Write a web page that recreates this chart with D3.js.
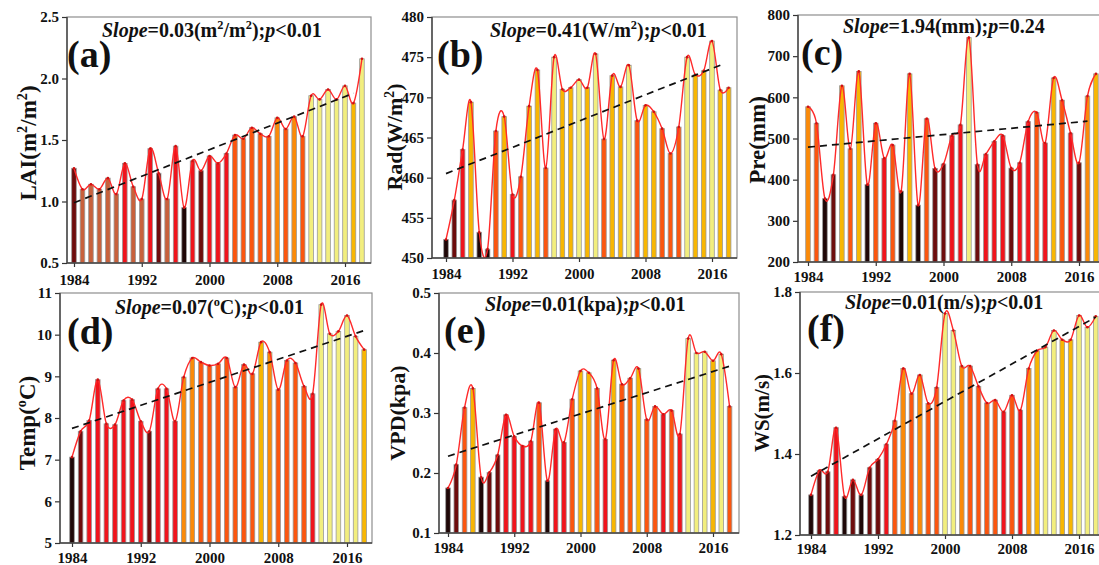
<!DOCTYPE html>
<html><head><meta charset="utf-8">
<script src="https://cdn.jsdelivr.net/npm/d3@7"></script>
<style>body{margin:0;background:#fff}svg{display:block}</style>
</head><body>
<svg id="chart" width="1099" height="565"></svg>
<script>
// ---------- data ----------
const years = [1984,1985,1986,1987,1988,1989,1990,1991,1992,1993,1994,1995,1996,1997,1998,1999,2000,2001,2002,2003,2004,2005,2006,2007,2008,2009,2010,2011,2012,2013,2014,2015,2016,2017,2018];
const xTickYears = [1984,1992,2000,2008,2016];

const laiValues  = [1.27,1.10,1.14,1.10,1.19,1.06,1.31,1.12,1.02,1.43,1.23,1.02,1.45,0.95,1.33,1.25,1.37,1.31,1.39,1.54,1.51,1.60,1.55,1.53,1.68,1.59,1.69,1.53,1.86,1.83,1.91,1.83,1.94,1.80,2.16];
const radValues  = [452.3,457.2,463.5,469.4,453.2,451.1,465.8,467.6,457.9,460.1,468.9,473.4,461.2,475.0,471.0,471.2,472.2,471.2,475.4,464.8,472.7,471.3,474.0,467.1,469.0,468.2,466.1,463.0,466.3,475.0,472.8,473.3,477.0,470.9,471.2];
const preValues  = [577,537,354,412,628,475,663,388,537,452,484,372,657,338,548,427,438,507,533,745,437,462,493,507,428,441,541,563,489,647,593,513,441,603,657];
const tempValues = [7.06,7.68,7.94,8.92,7.86,7.84,8.42,8.44,7.92,7.68,8.70,8.70,7.92,8.98,9.44,9.34,9.26,9.30,9.44,8.74,9.28,9.06,9.82,9.58,8.68,9.38,9.32,8.76,8.58,10.72,10.02,10.08,10.46,9.96,9.64];
const vpdValues  = [0.175,0.214,0.309,0.341,0.193,0.201,0.230,0.297,0.261,0.245,0.253,0.317,0.187,0.273,0.251,0.323,0.370,0.367,0.341,0.256,0.388,0.348,0.358,0.374,0.289,0.311,0.298,0.304,0.265,0.424,0.400,0.402,0.387,0.398,0.311];
const wsValues   = [1.299,1.359,1.356,1.465,1.295,1.336,1.299,1.366,1.387,1.424,1.482,1.611,1.549,1.595,1.525,1.564,1.747,1.705,1.617,1.617,1.567,1.526,1.533,1.504,1.545,1.508,1.611,1.655,1.664,1.705,1.682,1.682,1.742,1.713,1.740];

// colour class of every bar (K black, D dark red, B brown, R red, N orange-red, O orange, G gold, Y light yellow)
const laiClasses  = "DBBBBBRBBRDBRKRDRRRNNNNNONONYYYYYGY".split("");
const radClasses  = "KDRGKKNGRNGGNYGGYGYNGGYNGGNNNYGGYGG".split("");
const preClasses  = "ONKDGNGKNRNKGKNDDRRYDRRRDRRNRGNRDOG".split("");
const tempClasses = "KDRRRRRRRDRRROONNNNNNNGONNNNRYYYYYG".split("");
const vpdClasses  = "KDNGKDDRRRRNKRRNGGNRGNNGNNRNRYYYGYN".split("");
const wsClasses   = "KDDRKDKDDRNONONNYYONNNNRNROGYYGGYYY".split("");

// dashed trend line: value at start year and end year
const laiTrend  = [[1984,0.99],[2017,1.88]];
const radTrend  = [[1984,460.5],[2017,474.0]];
const preTrend  = [[1984,479],[2017,542]];
const tempTrend = [[1984,7.75],[2018,10.10]];
const vpdTrend  = [[1984,0.228],[2018,0.378]];
const wsTrend   = [[1984,1.345],[2018,1.738]];

const laiTicks  = [0.5,1.0,1.5,2.0,2.5];
const radTicks  = [450,455,460,465,470,475,480];
const preTicks  = [200,300,400,500,600,700,800];
const tempTicks = [5,6,7,8,9,10,11];
const vpdTicks  = [0.1,0.2,0.3,0.4,0.5];
const wsTicks   = [1.2,1.4,1.6,1.8];

// ---------- styling / layout ----------
const palette = {K:"#1f0707", D:"#6d0c0c", B:"#c8613c", R:"#f0141c", N:"#fb560f", O:"#fb8a08", G:"#f8b602", Y:"#f2ee7e"};
const FONT = "'Liberation Serif','Times New Roman',Times,serif";

const panels = [
  {lab:"(a)", values:laiValues, cls:laiClasses, trend:laiTrend, ticks:laiTicks, fmt:".1f",
   title:[["LAI(m",0],["2",1],["/m",0],["2",1],[")",0]],
   slope:[["Slope",2],["=0.03(m",0],["2",1],["/m",0],["2",1],[");",0],["p",2],["<0.01",0]],
   L:67,T:17,R:371,B:263,x0:74,x16:345,tx:28,ty:143,tfs:23,lx:67,ly:67,sx:102,sy:37,xpad:7},
  {lab:"(b)", values:radValues, cls:radClasses, trend:radTrend, ticks:radTicks, fmt:"d",
   title:[["Rad(W/m",0],["2",1],[")",0]],
   slope:[["Slope",2],["=0.41(W/m",0],["2",1],[");",0],["p",2],["<0.01",0]],
   L:432,T:17,R:737,B:258,x0:446,x16:712,tx:395,ty:137,tfs:22,lx:437,ly:67,sx:490,sy:37,xpad:6},
  {lab:"(c)", values:preValues, cls:preClasses, trend:preTrend, ticks:preTicks, fmt:"d",
   title:[["Pre(mm)",0]],
   slope:[["Slope",2],["=1.94(mm);",0],["p",2],["=0.24",0]],
   L:798,T:15,R:1140,B:262,x0:808,x16:1079,tx:757,ty:140,tfs:23,lx:801,ly:65,sx:843,sy:33,xpad:5},
  {lab:"(d)", values:tempValues, cls:tempClasses, trend:tempTrend, ticks:tempTicks, fmt:"d",
   title:[["Temp(",0],["o",1],["C)",0]],
   slope:[["Slope",2],["=0.07(",0],["o",1],["C);",0],["p",2],["<0.01",0]],
   L:60,T:293,R:372,B:543,x0:72,x16:347,tx:27,ty:423,tfs:23,lx:67,ly:344,sx:115,sy:314,xpad:5},
  {lab:"(e)", values:vpdValues, cls:vpdClasses, trend:vpdTrend, ticks:vpdTicks, fmt:".1f",
   title:[["VPD(kpa)",0]],
   slope:[["Slope",2],["=0.01(kpa);",0],["p",2],["<0.01",0]],
   L:439,T:293,R:739,B:533,x0:448,x16:713,tx:398,ty:413,tfs:22,lx:444,ly:343,sx:485,sy:311,xpad:5},
  {lab:"(f)", values:wsValues, cls:wsClasses, trend:wsTrend, ticks:wsTicks, fmt:".1f",
   title:[["WS(m/s)",0]],
   slope:[["Slope",2],["=0.01(m/s);",0],["p",2],["<0.01",0]],
   L:800,T:292,R:1140,B:535,x0:811,x16:1079,tx:762,ty:413,tfs:21,lx:807,ly:341,sx:845,sy:309,xpad:4}
];

const svg = d3.select("#chart");

function richText(sel, parts, fs) {
  // parts: [text, mode] mode 0 normal, 1 superscript, 2 italic
  const shift = fs * 0.38;
  parts.forEach(([t, m], i) => {
    const prevSup = i > 0 && parts[i-1][1] === 1;
    const ts = sel.append("tspan").text(t);
    if (m === 1) { ts.attr("font-size", fs*0.62).attr("dy", -shift); }
    else if (prevSup) { ts.attr("dy", shift); }
    if (m === 2) ts.attr("font-style", "italic");
  });
}

panels.forEach((p, k) => {
  const g = svg.append("g");
  const yDom = [p.ticks[0], p.ticks[p.ticks.length-1]];
  const x = d3.scaleLinear().domain([1984, 2016]).range([p.x0, p.x16]);
  const y = d3.scaleLinear().domain(yDom).range([p.B, p.T]);
  const bw = 4.6;

  const clipId = "clip" + k;
  svg.append("clipPath").attr("id", clipId).append("rect")
    .attr("x", p.L).attr("y", p.T).attr("width", p.R - p.L).attr("height", p.B - p.T);

  // frame
  g.append("rect").attr("x", p.L).attr("y", p.T).attr("width", p.R - p.L).attr("height", p.B - p.T)
    .attr("fill", "none").attr("stroke", "#8e8e8e").attr("stroke-width", 1.2);

  const inner = g.append("g").attr("clip-path", `url(#${clipId})`);

  // bars
  inner.selectAll("rect.bar").data(years).join("rect").attr("class", "bar")
    .attr("x", (d) => x(d) - bw/2)
    .attr("y", (d, i) => y(p.values[i]))
    .attr("width", bw)
    .attr("height", (d, i) => p.B - y(p.values[i]))
    .attr("fill", (d, i) => palette[p.cls[i]])
    .attr("stroke", "#9a9a9a").attr("stroke-width", 0.8);

  // smooth red curve
  const line = d3.line().x((d) => x(d)).y((d, i) => y(p.values[i])).curve(d3.curveCardinal.tension(0));
  inner.append("path").datum(years).attr("d", line).attr("fill", "none")
    .attr("stroke", "#ff2a2a").attr("stroke-width", 1.4);
  inner.selectAll("circle.pt").data(years).join("circle").attr("class", "pt")
    .attr("cx", (d) => x(d)).attr("cy", (d, i) => y(p.values[i])).attr("r", 1.3).attr("fill", "#d01010");

  // dashed trend
  inner.append("line")
    .attr("x1", x(p.trend[0][0])).attr("y1", y(p.trend[0][1]))
    .attr("x2", x(p.trend[1][0])).attr("y2", y(p.trend[1][1]))
    .attr("stroke", "#111").attr("stroke-width", 1.7).attr("stroke-dasharray", "7,5");

  // axes
  const ya = g.append("g").attr("transform", `translate(${p.L},0)`)
    .call(d3.axisLeft(y).tickValues(p.ticks).tickFormat(d3.format(p.fmt)).tickSize(5).tickSizeOuter(0).tickPadding(3));
  const xa = g.append("g").attr("transform", `translate(0,${p.B})`)
    .call(d3.axisBottom(x).tickValues(xTickYears).tickFormat(d3.format("d")).tickSize(4).tickSizeOuter(0).tickPadding(p.xpad));
  [ya, xa].forEach(a => {
    a.select(".domain").remove();
    a.selectAll("line").attr("stroke", "#333").attr("stroke-width", 1.2);
    a.selectAll("text").attr("font-family", FONT).attr("font-weight", "bold").attr("font-size", 15).attr("fill", "#111");
  });
  g.append("line").attr("x1", p.L).attr("x2", p.L).attr("y1", p.T).attr("y2", p.B).attr("stroke", "#444").attr("stroke-width", 1.4);
  g.append("line").attr("x1", p.L).attr("x2", p.R).attr("y1", p.B).attr("y2", p.B).attr("stroke", "#444").attr("stroke-width", 1.4);

  // y title (rotated; baseline placed so glyphs centre on tx)
  const tt = g.append("text").attr("transform", `translate(${p.tx + p.tfs*0.33},${p.ty}) rotate(-90)`)
    .attr("text-anchor", "middle")
    .attr("font-family", FONT).attr("font-weight", "bold").attr("font-size", p.tfs).attr("fill", "#111");
  richText(tt, p.title, p.tfs);

  // panel label
  g.append("text").attr("x", p.lx).attr("y", p.ly).text(p.lab)
    .attr("font-family", FONT).attr("font-weight", "bold").attr("font-size", 38).attr("fill", "#111");

  // slope text
  const st = g.append("text").attr("x", p.sx).attr("y", p.sy)
    .attr("font-family", FONT).attr("font-weight", "bold").attr("font-size", 20).attr("fill", "#111");
  richText(st, p.slope, 20);
});
</script>
</body></html>
